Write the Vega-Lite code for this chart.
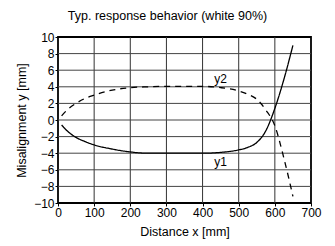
{
  "$schema": "https://vega.github.io/schema/vega-lite/v6.json",
  "autosize": "none",
  "width": 253,
  "height": 166,
  "padding": {"left": 58, "top": 37, "right": 24, "bottom": 43},
  "background": "white",
  "title": {"text": "Typ. response behavior (white 90%)", "font": "Liberation Sans", "fontSize": 12.5, "fontWeight": "normal", "color": "black", "anchor": "middle", "dx": -17, "offset": 9},
  "config": {
    "view": {"stroke": "black", "strokeWidth": 1.8},
    "axis": {"labelFont": "Liberation Sans", "titleFont": "Liberation Sans", "labelFontSize": 12, "titleFontSize": 12.5, "titleFontWeight": "normal", "labelColor": "black", "titleColor": "black", "domain": false, "tickColor": "black", "tickSize": 3, "grid": false, "labelOverlap": false, "labelFlush": false, "labelPadding": 1},
    "axisX": {"titlePadding": 7},
    "axisY": {"titlePadding": 5}
  },
  "datasets": {
    "curves": [
      {"series": "y1", "x": 10, "y": -0.6},
      {"series": "y1", "x": 25, "y": -1.3},
      {"series": "y1", "x": 50, "y": -2.1},
      {"series": "y1", "x": 75, "y": -2.6},
      {"series": "y1", "x": 100, "y": -3.0},
      {"series": "y1", "x": 150, "y": -3.5},
      {"series": "y1", "x": 200, "y": -3.85},
      {"series": "y1", "x": 250, "y": -4.0},
      {"series": "y1", "x": 300, "y": -4.0},
      {"series": "y1", "x": 400, "y": -4.0},
      {"series": "y1", "x": 450, "y": -3.9},
      {"series": "y1", "x": 500, "y": -3.6},
      {"series": "y1", "x": 525, "y": -3.3},
      {"series": "y1", "x": 550, "y": -2.7},
      {"series": "y1", "x": 575, "y": -1.3},
      {"series": "y1", "x": 600, "y": 1.4},
      {"series": "y1", "x": 625, "y": 4.9},
      {"series": "y1", "x": 650, "y": 9.0},
      {"series": "y2", "x": 10, "y": 0.5},
      {"series": "y2", "x": 25, "y": 1.2},
      {"series": "y2", "x": 50, "y": 2.0},
      {"series": "y2", "x": 75, "y": 2.6},
      {"series": "y2", "x": 100, "y": 3.0},
      {"series": "y2", "x": 150, "y": 3.6},
      {"series": "y2", "x": 200, "y": 3.9},
      {"series": "y2", "x": 250, "y": 4.0},
      {"series": "y2", "x": 300, "y": 4.05},
      {"series": "y2", "x": 400, "y": 4.05},
      {"series": "y2", "x": 450, "y": 3.9},
      {"series": "y2", "x": 500, "y": 3.5},
      {"series": "y2", "x": 525, "y": 3.1},
      {"series": "y2", "x": 550, "y": 2.5},
      {"series": "y2", "x": 575, "y": 1.2},
      {"series": "y2", "x": 600, "y": -0.7},
      {"series": "y2", "x": 625, "y": -4.6},
      {"series": "y2", "x": 650, "y": -9.2}
    ],
    "labels": [
      {"label": "y2", "x": 450, "y": 5.0},
      {"label": "y1", "x": 450, "y": -5.0}
    ],
    "vgrid": [{"x": 100}, {"x": 200}, {"x": 300}, {"x": 400}, {"x": 500}, {"x": 600}],
    "hgrid": [{"y": -8}, {"y": -6}, {"y": -4}, {"y": -2}, {"y": 0}, {"y": 2}, {"y": 4}, {"y": 6}, {"y": 8}]
  },
  "layer": [
    {
      "data": {"name": "vgrid"},
      "mark": {"type": "rule", "color": "#333", "strokeWidth": 1},
      "encoding": {
        "x": {"field": "x", "type": "quantitative", "scale": {"domain": [0, 700], "nice": false}, "axis": {"values": [0,100,200,300,400,500,600,700], "title": "Distance x [mm]"}}
      }
    },
    {
      "data": {"name": "hgrid"},
      "mark": {"type": "rule", "color": "#444", "strokeWidth": 1},
      "encoding": {
        "y": {"field": "y", "type": "quantitative", "scale": {"domain": [-10, 10], "nice": false}, "axis": {"values": [-10,-8,-6,-4,-2,0,2,4,6,8,10], "title": "Misalignment y [mm]"}}
      }
    },
    {
      "data": {"name": "curves"},
      "mark": {"type": "line", "interpolate": "monotone", "color": "black", "strokeWidth": 1.3},
      "encoding": {
        "x": {"field": "x", "type": "quantitative", "axis": {"values": [0,100,200,300,400,500,600,700], "title": "Distance x [mm]"}},
        "y": {"field": "y", "type": "quantitative", "axis": {"values": [-10,-8,-6,-4,-2,0,2,4,6,8,10], "title": "Misalignment y [mm]"}},
        "detail": {"field": "series"},
        "strokeDash": {"field": "series", "type": "nominal", "scale": {"domain": ["y1", "y2"], "range": [[1, 0], [6, 5]]}, "legend": null}
      }
    },
    {
      "data": {"name": "labels"},
      "mark": {"type": "text", "font": "Liberation Sans", "fontSize": 12, "color": "black", "align": "center", "baseline": "middle"},
      "encoding": {
        "x": {"field": "x", "type": "quantitative", "axis": {"values": [0,100,200,300,400,500,600,700], "title": "Distance x [mm]"}},
        "y": {"field": "y", "type": "quantitative", "axis": {"values": [-10,-8,-6,-4,-2,0,2,4,6,8,10], "title": "Misalignment y [mm]"}},
        "text": {"field": "label"}
      }
    }
  ]
}
